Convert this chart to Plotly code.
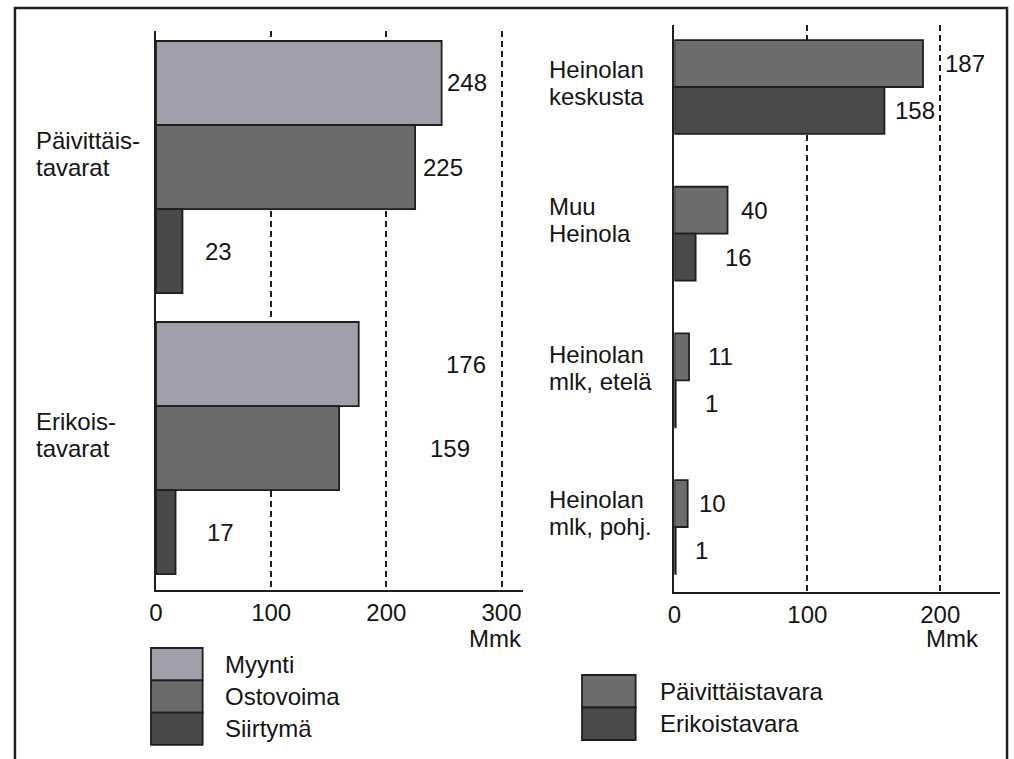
import plotly.graph_objects as go

# ---- data -------------------------------------------------------------
# Left panel: product groups (Mmk)
groups = ["Päivittäis-|tavarat", "Erikois-|tavarat"]
left_series = ["Myynti", "Ostovoima", "Siirtymä"]
myynti = [248, 176]
ostovoima = [225, 159]
siirtyma = [23, 17]

# Right panel: areas (Mmk)
areas = ["Heinolan|keskusta", "Muu|Heinola", "Heinolan|mlk, etelä", "Heinolan|mlk, pohj."]
right_series = ["Päivittäistavara", "Erikoistavara"]
paivittaistavara = [187, 40, 11, 10]
erikoistavara = [158, 16, 1, 1]

left_ticks = [0, 100, 200, 300]
right_ticks = [0, 100, 200]
unit_label = "Mmk"

# ---- styles -------------------------------------------------------------
W, H = 1014, 759
FONT = "Liberation Sans, Arial, Helvetica, sans-serif"
INK = "#141414"
FS = 24
left_colors = ["#a0a0aa", "#6a6a6a", "#494949"]
right_colors = ["#6d6d6d", "#4a4a4a"]

# horizontal nudge (px) of each value label from its bar end
left_label_dx = [[25, 107], [28, 111], [36, 45]]
right_label_dx = [[42, 27, 32, 25], [31, 43, 36, 26]]
# vertical lift (px) of the two-line category labels
left_lift = [13, 13]
right_lift = [4, 14, 12, 14]
LINE_GAP = 27

left_group_width = 0.897
right_group_width = 0.64


def px(x):
    return x / W


def py(y):
    return 1 - y / H


fig = go.Figure()
annotations = []
shapes = []

left_values = [myynti, ostovoima, siirtyma]
right_values = [paivittaistavara, erikoistavara]


def add_panel(cats, names, values, colors, gw, xa, ya, dxs):
    n = len(names)
    bw = gw / n
    for k, (name, vals, col) in enumerate(zip(names, values, colors)):
        off = -gw / 2 + k * bw
        fig.add_trace(go.Bar(
            name=name, y=cats, x=vals, orientation="h",
            xaxis=xa, yaxis=ya, width=bw, offset=off,
            marker=dict(color=col, line=dict(color="#1e1e1e", width=1.8)),
            showlegend=False, hoverinfo="x+name",
        ))
        for i, v in enumerate(vals):
            annotations.append(dict(
                x=v, y=i + off + bw / 2, xref=xa, yref=ya,
                text=str(v), showarrow=False, xanchor="center", yanchor="middle",
                xshift=dxs[k][i], font=dict(family=FONT, size=FS, color=INK),
            ))


add_panel(groups, left_series, left_values, left_colors, left_group_width, "x", "y", left_label_dx)
add_panel(areas, right_series, right_values, right_colors, right_group_width, "x2", "y2", right_label_dx)


def add_cat_labels(cats, ya, xpix, lifts):
    for i, c in enumerate(cats):
        lines = c.split("|")
        for j, line in enumerate(lines):
            annotations.append(dict(
                x=px(xpix), xref="paper", y=i, yref=ya, text=line, showarrow=False,
                xanchor="left", yanchor="middle",
                yshift=lifts[i] + LINE_GAP / 2 - j * LINE_GAP,
                font=dict(family=FONT, size=FS, color=INK),
            ))


add_cat_labels(groups, "y", 27, left_lift)
add_cat_labels(areas, "y2", 544, right_lift)

# unit labels under the axes
for xc in (492, 952):
    annotations.append(dict(x=px(xc), y=py(638), xref="paper", yref="paper", text=unit_label,
                            showarrow=False, xanchor="center", yanchor="middle",
                            font=dict(family=FONT, size=FS, color=INK)))


# legends: stacked swatches with labels
def add_legend(names, colors, x0, x1, y0, step, tx):
    for k, (name, col) in enumerate(zip(names, colors)):
        shapes.append(dict(type="rect", xref="paper", yref="paper",
                           x0=px(x0), x1=px(x1), y0=py(y0 + k * step), y1=py(y0 + (k + 1) * step),
                           fillcolor=col, line=dict(color="#1e1e1e", width=1.8)))
        annotations.append(dict(x=px(tx), y=py(y0 + (k + 0.5) * step), xref="paper", yref="paper",
                                text=name, showarrow=False, xanchor="left", yanchor="middle",
                                font=dict(family=FONT, size=FS, color=INK)))


add_legend(left_series, left_colors, 145, 197, 648, 32.3, 217)
add_legend(right_series, right_colors, 579, 633, 675, 32.5, 656)

# outer frame
shapes.append(dict(type="rect", xref="paper", yref="paper", x0=px(8), x1=px(1007),
                   y0=-0.1, y1=py(8), line=dict(color="#1e1e1e", width=2.5), layer="below"))

axis_common = dict(
    showline=True, linecolor="#1e1e1e", linewidth=2.2, mirror=False,
    showgrid=True, gridcolor="#1e1e1e", gridwidth=2, griddash="6px,4px",
    zeroline=False, ticks="", tickfont=dict(family=FONT, size=FS, color=INK),
    fixedrange=True,
)
yaxis_common = dict(showline=True, linecolor="#1e1e1e", linewidth=2.2, showgrid=False,
                    zeroline=False, showticklabels=False, ticks="", fixedrange=True)

fig.update_layout(
    width=W, height=H, margin=dict(l=0, r=0, t=0, b=0),
    paper_bgcolor="white", plot_bgcolor="white",
    barmode="overlay",
    xaxis=dict(domain=[px(150), px(520)], range=[0, 319], tickvals=left_ticks, anchor="y", **axis_common),
    yaxis=dict(domain=[py(590), py(31)], range=[1.505, -0.484], anchor="x", **yaxis_common),
    xaxis2=dict(domain=[px(672), px(1000)], range=[0, 245], tickvals=right_ticks, anchor="y2", **axis_common),
    yaxis2=dict(domain=[py(592), py(25)], range=[3.443, -0.4227], anchor="x2", **yaxis_common),
    annotations=annotations,
    shapes=shapes,
    font=dict(family=FONT, color=INK),
)

fig.write_html("out.html")
